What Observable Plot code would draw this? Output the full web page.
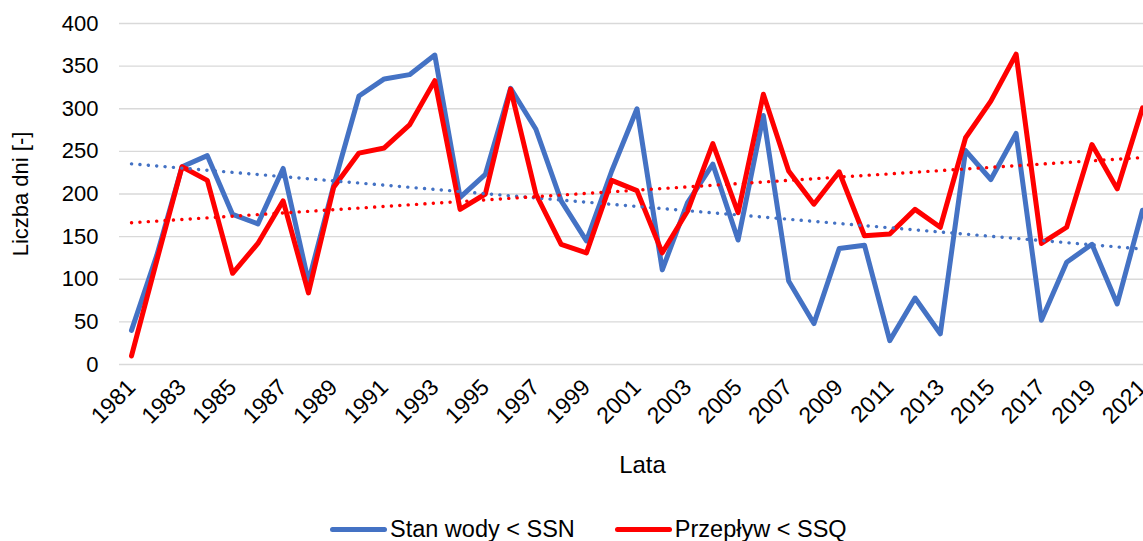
<!DOCTYPE html>
<html><head><meta charset="utf-8">
<script src="https://cdn.jsdelivr.net/npm/d3@7"></script>
<script src="https://cdn.jsdelivr.net/npm/@observablehq/plot@0.6"></script>
<style>
body{margin:0;overflow:hidden;background:#fff;font-family:"Liberation Sans",Arial,sans-serif;}
#wrap{position:relative;width:1143px;height:541px;}
#legend{position:absolute;left:330px;top:515px;height:28px;display:flex;align-items:center;font-size:23.5px;color:#000;white-space:nowrap;}
.item{display:flex;align-items:center;margin-right:40px;}
.sw{width:57px;height:5px;border-radius:3px;margin-right:3px;}
</style>
</head><body><div id="wrap"><div id="chart"></div><div id="legend"></div></div>
<script>
const years = [1981,1982,1983,1984,1985,1986,1987,1988,1989,1990,1991,1992,1993,1994,1995,1996,1997,1998,1999,2000,2001,2002,2003,2004,2005,2006,2007,2008,2009,2010,2011,2012,2013,2014,2015,2016,2017,2018,2019,2020,2021];
const stanWody = [40,128,232,245,176,165,230,97,210,315,335,340,363,196,223,324,276,192,145,227,300,111,190,235,146,292,98,48,136,140,28,78,36,251,217,271,52,120,141,71,181];
const przeplyw = [10,122,232,216,107,142,192,84,208,248,254,281,333,182,200,323,200,141,131,216,204,131,180,259,178,317,227,188,226,151,153,182,161,266,309,364,142,161,258,206,301];
const seriesNames = ["Stan wody < SSN", "Przepływ < SSQ"];
const seriesColors = ["#4472C4", "#FF0000"];
const yTicks = [0,50,100,150,200,250,300,350,400];
const xTicks = [1981,1983,1985,1987,1989,1991,1993,1995,1997,1999,2001,2003,2005,2007,2009,2011,2013,2015,2017,2019,2021];
const yLabel = "Liczba dni [-]";
const xLabel = "Lata";

const data = [];
years.forEach((yr, i) => {
  data.push({year: yr, value: stanWody[i], series: seriesNames[0]});
  data.push({year: yr, value: przeplyw[i], series: seriesNames[1]});
});

const chart = Plot.plot({
  width: 1143, height: 505,
  marginLeft: 119, marginRight: 0, marginTop: 23, marginBottom: 141,
  style: {fontFamily: "'Liberation Sans', Arial, sans-serif", fontSize: "23px", color: "#000", background: "#fff", overflow: "visible"},
  x: {type: "linear", domain: [1980.525, 2021.04]},
  y: {domain: [0, 400]},
  color: {domain: seriesNames, range: seriesColors},
  marks: [
    Plot.ruleY(yTicks, {stroke: "#d9d9d9", strokeWidth: 1.4}),
    Plot.axisY(yTicks, {tickSize: 0, tickPadding: 21, label: yLabel, labelAnchor: "center", labelArrow: "none", labelOffset: 107, fontSize: 22}),
    Plot.axisX(xTicks, {tickSize: 0, tickRotate: -45, tickPadding: 19, tickFormat: d => String(d), label: null, fontSize: 23}),
    Plot.text([xLabel], {frameAnchor: "bottom", dx: 11, dy: 108, fontSize: 24, fill: "#000"}),
    Plot.line(data, {x: "year", y: "value", stroke: "series", strokeWidth: 5, strokeLinejoin: "round"}),
    Plot.linearRegressionY(data, {x: "year", y: "value", stroke: "series", ci: 0, strokeWidth: 3.4, strokeDasharray: "0.1,8.3", strokeLinecap: "round"})
  ]
});
document.getElementById("chart").appendChild(chart);

const legend = document.getElementById("legend");
seriesNames.forEach((name, i) => {
  const item = document.createElement("div");
  item.className = "item";
  const sw = document.createElement("span");
  sw.className = "sw";
  sw.style.background = seriesColors[i];
  const t = document.createElement("span");
  t.textContent = name;
  item.appendChild(sw); item.appendChild(t);
  legend.appendChild(item);
});
</script>
</body></html>
